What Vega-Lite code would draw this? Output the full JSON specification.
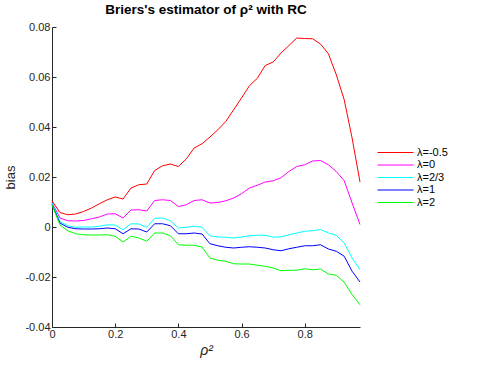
{
  "$schema": "https://vega.github.io/schema/vega-lite/v6.json",
  "width": 308,
  "height": 300,
  "autosize": {"type": "none"},
  "padding": {"left": 52, "top": 27, "right": 128, "bottom": 40},
  "background": "white",
  "config": {
    "view": {"stroke": null},
    "font": "Liberation Sans",
    "axis": {"labelFont": "Liberation Sans", "titleFont": "Liberation Sans"}
  },
  "title": {"text": "Briers's estimator of ρ² with RC", "fontSize": 13.5, "fontWeight": "bold", "font": "Liberation Sans", "color": "#000000", "offset": 5, "anchor": "middle"},
  "data": {"values": [
    {"x":0,"s":"λ=-0.5","y":0.0105},{"x":0.025,"s":"λ=-0.5","y":0.0058},{"x":0.05,"s":"λ=-0.5","y":0.0049},{"x":0.075,"s":"λ=-0.5","y":0.0052},{"x":0.1,"s":"λ=-0.5","y":0.0062},{"x":0.125,"s":"λ=-0.5","y":0.0076},{"x":0.15,"s":"λ=-0.5","y":0.0093},{"x":0.175,"s":"λ=-0.5","y":0.0109},{"x":0.2,"s":"λ=-0.5","y":0.012},{"x":0.225,"s":"λ=-0.5","y":0.0112},{"x":0.25,"s":"λ=-0.5","y":0.0156},{"x":0.275,"s":"λ=-0.5","y":0.0169},{"x":0.3,"s":"λ=-0.5","y":0.0172},{"x":0.325,"s":"λ=-0.5","y":0.0226},{"x":0.35,"s":"λ=-0.5","y":0.0245},{"x":0.375,"s":"λ=-0.5","y":0.0252},{"x":0.4,"s":"λ=-0.5","y":0.0242},{"x":0.425,"s":"λ=-0.5","y":0.0272},{"x":0.45,"s":"λ=-0.5","y":0.0316},{"x":0.475,"s":"λ=-0.5","y":0.0333},{"x":0.5,"s":"λ=-0.5","y":0.036},{"x":0.525,"s":"λ=-0.5","y":0.0389},{"x":0.55,"s":"λ=-0.5","y":0.0422},{"x":0.575,"s":"λ=-0.5","y":0.0469},{"x":0.6,"s":"λ=-0.5","y":0.0516},{"x":0.625,"s":"λ=-0.5","y":0.0565},{"x":0.65,"s":"λ=-0.5","y":0.0595},{"x":0.675,"s":"λ=-0.5","y":0.0646},{"x":0.7,"s":"λ=-0.5","y":0.066},{"x":0.725,"s":"λ=-0.5","y":0.0696},{"x":0.75,"s":"λ=-0.5","y":0.0726},{"x":0.775,"s":"λ=-0.5","y":0.0756},{"x":0.8,"s":"λ=-0.5","y":0.0754},{"x":0.825,"s":"λ=-0.5","y":0.0753},{"x":0.85,"s":"λ=-0.5","y":0.0732},{"x":0.875,"s":"λ=-0.5","y":0.0693},{"x":0.9,"s":"λ=-0.5","y":0.0609},{"x":0.925,"s":"λ=-0.5","y":0.0509},{"x":0.95,"s":"λ=-0.5","y":0.0356},{"x":0.975,"s":"λ=-0.5","y":0.018},
    {"x":0,"s":"λ=0","y":0.0098},{"x":0.025,"s":"λ=0","y":0.0036},{"x":0.05,"s":"λ=0","y":0.0025},{"x":0.075,"s":"λ=0","y":0.0024},{"x":0.1,"s":"λ=0","y":0.0026},{"x":0.125,"s":"λ=0","y":0.0033},{"x":0.15,"s":"λ=0","y":0.004},{"x":0.175,"s":"λ=0","y":0.0052},{"x":0.2,"s":"λ=0","y":0.0053},{"x":0.225,"s":"λ=0","y":0.0036},{"x":0.25,"s":"λ=0","y":0.0068},{"x":0.275,"s":"λ=0","y":0.0069},{"x":0.3,"s":"λ=0","y":0.0064},{"x":0.325,"s":"λ=0","y":0.0106},{"x":0.35,"s":"λ=0","y":0.0109},{"x":0.375,"s":"λ=0","y":0.0106},{"x":0.4,"s":"λ=0","y":0.0082},{"x":0.425,"s":"λ=0","y":0.0089},{"x":0.45,"s":"λ=0","y":0.0106},{"x":0.475,"s":"λ=0","y":0.0109},{"x":0.5,"s":"λ=0","y":0.0096},{"x":0.525,"s":"λ=0","y":0.0098},{"x":0.55,"s":"λ=0","y":0.0105},{"x":0.575,"s":"λ=0","y":0.0116},{"x":0.6,"s":"λ=0","y":0.0133},{"x":0.625,"s":"λ=0","y":0.0156},{"x":0.65,"s":"λ=0","y":0.0167},{"x":0.675,"s":"λ=0","y":0.018},{"x":0.7,"s":"λ=0","y":0.0185},{"x":0.725,"s":"λ=0","y":0.0197},{"x":0.75,"s":"λ=0","y":0.0222},{"x":0.775,"s":"λ=0","y":0.0242},{"x":0.8,"s":"λ=0","y":0.0249},{"x":0.825,"s":"λ=0","y":0.0264},{"x":0.85,"s":"λ=0","y":0.0266},{"x":0.875,"s":"λ=0","y":0.0249},{"x":0.9,"s":"λ=0","y":0.0222},{"x":0.925,"s":"λ=0","y":0.0185},{"x":0.95,"s":"λ=0","y":0.0096},{"x":0.975,"s":"λ=0","y":0.001},
    {"x":0,"s":"λ=2/3","y":0.0096},{"x":0.025,"s":"λ=2/3","y":0.0022},{"x":0.05,"s":"λ=2/3","y":0.0005},{"x":0.075,"s":"λ=2/3","y":-0.0001},{"x":0.1,"s":"λ=2/3","y":0.0},{"x":0.125,"s":"λ=2/3","y":0.0},{"x":0.15,"s":"λ=2/3","y":0.0003},{"x":0.175,"s":"λ=2/3","y":0.0009},{"x":0.2,"s":"λ=2/3","y":0.0008},{"x":0.225,"s":"λ=2/3","y":-0.0011},{"x":0.25,"s":"λ=2/3","y":0.0013},{"x":0.275,"s":"λ=2/3","y":0.0012},{"x":0.3,"s":"λ=2/3","y":-0.0001},{"x":0.325,"s":"λ=2/3","y":0.0035},{"x":0.35,"s":"λ=2/3","y":0.0036},{"x":0.375,"s":"λ=2/3","y":0.0025},{"x":0.4,"s":"λ=2/3","y":-0.0004},{"x":0.425,"s":"λ=2/3","y":-0.0001},{"x":0.45,"s":"λ=2/3","y":0.0003},{"x":0.475,"s":"λ=2/3","y":-0.0001},{"x":0.5,"s":"λ=2/3","y":-0.0035},{"x":0.525,"s":"λ=2/3","y":-0.004},{"x":0.55,"s":"λ=2/3","y":-0.0041},{"x":0.575,"s":"λ=2/3","y":-0.0044},{"x":0.6,"s":"λ=2/3","y":-0.004},{"x":0.625,"s":"λ=2/3","y":-0.0035},{"x":0.65,"s":"λ=2/3","y":-0.0033},{"x":0.675,"s":"λ=2/3","y":-0.0033},{"x":0.7,"s":"λ=2/3","y":-0.004},{"x":0.725,"s":"λ=2/3","y":-0.004},{"x":0.75,"s":"λ=2/3","y":-0.0031},{"x":0.775,"s":"λ=2/3","y":-0.0024},{"x":0.8,"s":"λ=2/3","y":-0.0017},{"x":0.825,"s":"λ=2/3","y":-0.0015},{"x":0.85,"s":"λ=2/3","y":-0.001},{"x":0.875,"s":"λ=2/3","y":-0.0024},{"x":0.9,"s":"λ=2/3","y":-0.0033},{"x":0.925,"s":"λ=2/3","y":-0.0064},{"x":0.95,"s":"λ=2/3","y":-0.0124},{"x":0.975,"s":"λ=2/3","y":-0.0171},
    {"x":0,"s":"λ=1","y":0.009},{"x":0.025,"s":"λ=1","y":0.0016},{"x":0.05,"s":"λ=1","y":-0.0001},{"x":0.075,"s":"λ=1","y":-0.0007},{"x":0.1,"s":"λ=1","y":-0.0008},{"x":0.125,"s":"λ=1","y":-0.0008},{"x":0.15,"s":"λ=1","y":-0.0007},{"x":0.175,"s":"λ=1","y":-0.0004},{"x":0.2,"s":"λ=1","y":-0.0007},{"x":0.225,"s":"λ=1","y":-0.0027},{"x":0.25,"s":"λ=1","y":-0.0007},{"x":0.275,"s":"λ=1","y":-0.0008},{"x":0.3,"s":"λ=1","y":-0.002},{"x":0.325,"s":"λ=1","y":0.0013},{"x":0.35,"s":"λ=1","y":0.0013},{"x":0.375,"s":"λ=1","y":0.0005},{"x":0.4,"s":"λ=1","y":-0.0027},{"x":0.425,"s":"λ=1","y":-0.0027},{"x":0.45,"s":"λ=1","y":-0.0024},{"x":0.475,"s":"λ=1","y":-0.0028},{"x":0.5,"s":"λ=1","y":-0.0067},{"x":0.525,"s":"λ=1","y":-0.0075},{"x":0.55,"s":"λ=1","y":-0.0081},{"x":0.575,"s":"λ=1","y":-0.0084},{"x":0.6,"s":"λ=1","y":-0.0081},{"x":0.625,"s":"λ=1","y":-0.0079},{"x":0.65,"s":"λ=1","y":-0.0081},{"x":0.675,"s":"λ=1","y":-0.0084},{"x":0.7,"s":"λ=1","y":-0.0091},{"x":0.725,"s":"λ=1","y":-0.0095},{"x":0.75,"s":"λ=1","y":-0.0087},{"x":0.775,"s":"λ=1","y":-0.0081},{"x":0.8,"s":"λ=1","y":-0.0075},{"x":0.825,"s":"λ=1","y":-0.0075},{"x":0.85,"s":"λ=1","y":-0.0071},{"x":0.875,"s":"λ=1","y":-0.0088},{"x":0.9,"s":"λ=1","y":-0.0097},{"x":0.925,"s":"λ=1","y":-0.0117},{"x":0.95,"s":"λ=1","y":-0.0177},{"x":0.975,"s":"λ=1","y":-0.022},
    {"x":0,"s":"λ=2","y":0.0089},{"x":0.025,"s":"λ=2","y":0.0009},{"x":0.05,"s":"λ=2","y":-0.0015},{"x":0.075,"s":"λ=2","y":-0.0027},{"x":0.1,"s":"λ=2","y":-0.0031},{"x":0.125,"s":"λ=2","y":-0.0032},{"x":0.15,"s":"λ=2","y":-0.0032},{"x":0.175,"s":"λ=2","y":-0.0031},{"x":0.2,"s":"λ=2","y":-0.0037},{"x":0.225,"s":"λ=2","y":-0.006},{"x":0.25,"s":"λ=2","y":-0.0037},{"x":0.275,"s":"λ=2","y":-0.0044},{"x":0.3,"s":"λ=2","y":-0.0057},{"x":0.325,"s":"λ=2","y":-0.0024},{"x":0.35,"s":"λ=2","y":-0.0024},{"x":0.375,"s":"λ=2","y":-0.0035},{"x":0.4,"s":"λ=2","y":-0.0071},{"x":0.425,"s":"λ=2","y":-0.0073},{"x":0.45,"s":"λ=2","y":-0.0073},{"x":0.475,"s":"λ=2","y":-0.008},{"x":0.5,"s":"λ=2","y":-0.0124},{"x":0.525,"s":"λ=2","y":-0.0133},{"x":0.55,"s":"λ=2","y":-0.0137},{"x":0.575,"s":"λ=2","y":-0.0147},{"x":0.6,"s":"λ=2","y":-0.0148},{"x":0.625,"s":"λ=2","y":-0.0148},{"x":0.65,"s":"λ=2","y":-0.0153},{"x":0.675,"s":"λ=2","y":-0.0157},{"x":0.7,"s":"λ=2","y":-0.0164},{"x":0.725,"s":"λ=2","y":-0.0175},{"x":0.75,"s":"λ=2","y":-0.0173},{"x":0.775,"s":"λ=2","y":-0.0173},{"x":0.8,"s":"λ=2","y":-0.0167},{"x":0.825,"s":"λ=2","y":-0.0171},{"x":0.85,"s":"λ=2","y":-0.0168},{"x":0.875,"s":"λ=2","y":-0.0188},{"x":0.9,"s":"λ=2","y":-0.0193},{"x":0.925,"s":"λ=2","y":-0.0221},{"x":0.95,"s":"λ=2","y":-0.0271},{"x":0.975,"s":"λ=2","y":-0.0311}
  ]},
  "mark": {"type": "line", "strokeWidth": 1, "interpolate": "linear"},
  "encoding": {
    "x": {
      "field": "x", "type": "quantitative",
      "scale": {"domain": [0, 0.975], "nice": false, "zero": false},
      "axis": {
        "values": [0, 0.2, 0.4, 0.6, 0.8],
        "title": "ρ²", "titleFontSize": 14, "titleFontWeight": "normal", "titleFontStyle": "italic", "titleColor": "#262626", "titlePadding": 4,
        "labelFontSize": 11, "labelColor": "#262626", "labelPadding": 5,
        "labelExpr": "replace(format(datum.value, '~g'), '−', '-')",
        "tickSize": -4, "tickColor": "#262626", "domainColor": "#262626", "grid": false, "labelFlush": false
      }
    },
    "y": {
      "field": "y", "type": "quantitative",
      "scale": {"domain": [-0.04, 0.08], "nice": false, "zero": false},
      "axis": {
        "values": [-0.04, -0.02, 0, 0.02, 0.04, 0.06, 0.08],
        "title": "bias", "titleFontSize": 13, "titleFontWeight": "normal", "titleColor": "#262626", "titlePadding": 7,
        "labelFontSize": 11, "labelColor": "#262626", "labelPadding": 6,
        "labelExpr": "replace(format(datum.value, '~g'), '−', '-')",
        "tickSize": -4, "tickColor": "#262626", "domainColor": "#262626", "grid": false
      }
    },
    "color": {
      "field": "s", "type": "nominal",
      "scale": {"domain": ["λ=-0.5", "λ=0", "λ=2/3", "λ=1", "λ=2"], "range": ["#ff0000", "#ff00ff", "#00ffff", "#0000ff", "#00ff00"]},
      "legend": {
        "title": null, "orient": "none", "legendX": 337, "legendY": 119,
        "symbolType": "M-3,0H3", "symbolSize": 144, "symbolStrokeWidth": 1, "symbolFillColor": "transparent",
        "labelFontSize": 11, "labelColor": "#000000", "labelOffset": 15, "rowPadding": 0.5, "padding": 0
      }
    }
  }
}
